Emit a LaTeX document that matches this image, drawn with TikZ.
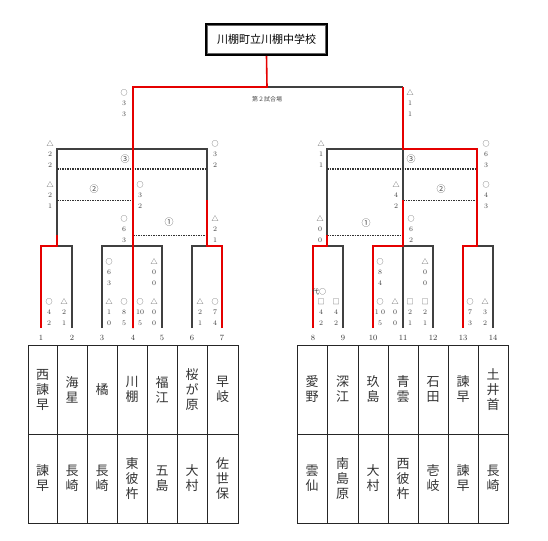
\documentclass[tikz,border=0pt]{standalone}
\usepackage{fontspec}
\newfontfamily\cjk{Noto Sans CJK JP}
\begin{document}
\begin{tikzpicture}[x=1pt,y=-1pt,
  blk/.style={draw=black!75,line width=1.1pt},
  redl/.style={draw=red!90!black,line width=1.6pt},
  dsh/.style={draw=black!80,line width=1pt,dash pattern=on 1.6pt off 0.9pt},
  sc/.style={align=center,inner sep=0pt,font=\fontsize{7}{10.5}\selectfont,text=black!75},
  num/.style={inner sep=0pt,font=\fontsize{8}{9}\selectfont,text=black!80},
  rnd/.style={inner sep=0pt,font=\cjk\fontsize{9}{10}\selectfont,text=black!70},
  cell/.style={draw=black!85,line width=0.9pt,inner sep=0pt,align=center,
    font=\cjk\fontsize{13}{15}\selectfont,text=black!80},
]
\useasboundingbox (0,0) rectangle (548,540);
\newcommand\scr[4]{\node[sc] (sc#1x#2) at (#1,#2) {#3\\#4};}
% title box
\node[draw=black,line width=1.6pt,minimum width=121pt,minimum height=31pt,inner sep=0pt,
  font=\cjk\fontsize{11}{12}\selectfont] (box) at (266.5,39.5) {川棚町立川棚中学校};
\draw[black!60,line width=0.5pt] ([shift={(2.2,2.2)}]box.north west) rectangle ([shift={(-2.2,-2.2)}]box.south east);
\node[inner sep=0pt,font=\cjk\fontsize{6}{7}\selectfont,text=black!70] (venue) at (267,99.5) {第２試合場};
% coordinates
\coordinate (J) at (267,87);
\coordinate (Ltop) at (133,87);
\coordinate (Rtop) at (403,87);
% left block
\coordinate (Ltl) at (57,149); \coordinate (Ltm) at (133,149); \coordinate (Ltr) at (207,149);
\coordinate (L1) at (57,235); \coordinate (L2) at (207,200);
\coordinate (Ld3a) at (57,169); \coordinate (Ld3b) at (207,169);
\coordinate (Ld2a) at (57,200); \coordinate (Ld2b) at (133,200);
\coordinate (Ld1a) at (133,235); \coordinate (Ld1b) at (207,235);
\foreach \n/\x in {1/41,2/72,3/102,4/133,5/162,6/192,7/222,8/313,9/343,10/373,11/403,12/433,13/463,14/493}{
  \coordinate (a\n) at (\x,246);
  \coordinate (t\n) at (\x,328);
  \node[num] (n\n) at (\x,337.5) {\n};
}
\coordinate (m12) at (57,246); \coordinate (m67) at (207,246);
% right block
\coordinate (Rtl) at (327,149); \coordinate (Rtm) at (403,149); \coordinate (Rtr) at (477,149);
\coordinate (R1) at (327,235); \coordinate (R2) at (403,200);
\coordinate (Rd3a) at (327,169); \coordinate (Rd3b) at (477,169);
\coordinate (Rd2a) at (403,200); \coordinate (Rd2b) at (477,200);
\coordinate (Rd1a) at (327,235); \coordinate (Rd1b) at (403,235);
\coordinate (m89) at (327,246); \coordinate (m1314) at (477,246);
% black lines
\draw[blk] (J) -- (Rtop);
\draw[blk] (L1) -- (Ltl) -- (Ltr) -- (L2);
\draw[blk] (t2) -- (a2) -- (m12);
\draw[blk] (t3) -- (a3) -- (a5) -- (t5);
\draw[blk] (t6) -- (a6) -- (m67);
\draw[blk] (R1) -- (Rtl) -- (Rtm) -- (R2);
\draw[blk] (t9) -- (a9) -- (m89);
\draw[blk] (t11) -- (a11) -- (a12) -- (t12);
\draw[blk] (t14) -- (a14) -- (m1314);
% dashed
\draw[dsh] (Ld3a) -- (Ld3b);
\draw[dsh] (Ld2a) -- (Ld2b);
\draw[dsh] (Ld1a) -- (Ld1b);
\draw[dsh] (Rd3a) -- (Rd3b);
\draw[dsh] (Rd2a) -- (Rd2b);
\draw[dsh] (Rd1a) -- (Rd1b);
% red lines
\draw[redl] (box.south) -- (J) -- (Ltop) -- (t4);
\draw[redl] (t1) -- (a1) -- (m12) -- (L1);
\draw[redl] (t7) -- (a7) -- (m67) -- (L2);
\draw[redl] (Rtop) -- (Rtm) -- (Rtr) -- (m1314) -- (a13) -- (t13);
\draw[redl] (t8) -- (a8) -- (m89) -- (R1);
\draw[redl] (t10) -- (a10) -- (a11) -- (R2);
% round labels
\node[rnd] (r3L) at (125,159) {③};
\node[rnd] (r2L) at (94,189) {②};
\node[rnd] (r1L) at (169,222) {①};
\node[rnd] (r3R) at (411,159) {③};
\node[rnd] (r2R) at (441,189) {②};
\node[rnd] (r1R) at (366,223) {①};
% scores
\newcommand\C{{\cjk ○}}
\newcommand\T{{\cjk △}}
\newcommand\Q{{\cjk □}}
\scr{124}{103}{\C}{3\\3}
\scr{50}{154}{\T}{2\\2}
\scr{50}{195}{\T}{2\\1}
\scr{215}{154}{\C}{3\\2}
\scr{140}{195}{\C}{3\\2}
\scr{124}{229}{\C}{6\\3}
\scr{215}{229}{\T}{2\\1}
\scr{109}{272}{\C}{6\\3}
\scr{154}{272}{\T}{0\\0}
\scr{49}{312}{\C}{4\\2}
\scr{64}{312}{\T}{2\\1}
\scr{109}{312}{\T}{1\\0}
\scr{124}{312}{\C}{8\\5}
\scr{140}{312}{\C}{10\\5}
\scr{154}{312}{\T}{0\\0}
\scr{200}{312}{\T}{2\\1}
\scr{215}{312}{\C}{7\\4}
\scr{410}{103}{\T}{1\\1}
\scr{321}{154}{\T}{1\\1}
\scr{486}{154}{\C}{6\\3}
\scr{396}{195}{\T}{4\\2}
\scr{486}{195}{\C}{4\\3}
\scr{320}{229}{\T}{0\\0}
\scr{411}{229}{\C}{6\\2}
\scr{380}{272}{\C}{8\\4}
\scr{425}{272}{\T}{0\\0}
\node[sc] (daiC) at (319,292) {{\cjk 代○}};
\scr{321}{312}{\Q}{4\\2}
\scr{336}{312}{\Q}{4\\2}
\scr{380}{312}{\C}{1\,\,0\\5}
\scr{395}{312}{\T}{0\\0}
\scr{410}{312}{\Q}{2\\1}
\scr{425}{312}{\Q}{2\\1}
\scr{470}{312}{\C}{7\\3}
\scr{485}{312}{\T}{3\\2}
% tables
\foreach \nm/\l/\r/\tp/\bt in {
  c1/28/57/西\\諫\\早/諫\\早,
  c2/57/87/海\\星/長\\崎,
  c3/87/117/橘/長\\崎,
  c4/117/147/川\\棚/東\\彼\\杵,
  c5/147/177/福\\江/五\\島,
  c6/177/207/桜\\が\\原/大\\村,
  c7/207/238/早\\岐/佐\\世\\保,
  c8/297/327/愛\\野/雲\\仙,
  c9/327/358/深\\江/南\\島\\原,
  c10/358/388/玖\\島/大\\村,
  c11/388/418/青\\雲/西\\彼\\杵,
  c12/418/448/石\\田/壱\\岐,
  c13/448/478/諫\\早/諫\\早,
  c14/478/508/土\\井\\首/長\\崎}{
  \pgfmathsetmacro\w{\r-\l}
  \pgfmathsetmacro\cx{(\l+\r)/2}
  \node[cell,minimum width=\w pt,minimum height=89pt] (\nm top) at (\cx,389.5) {\tp};
  \node[cell,minimum width=\w pt,minimum height=89pt] (\nm bot) at (\cx,478.5) {\bt};
}
\end{tikzpicture}
\end{document}
